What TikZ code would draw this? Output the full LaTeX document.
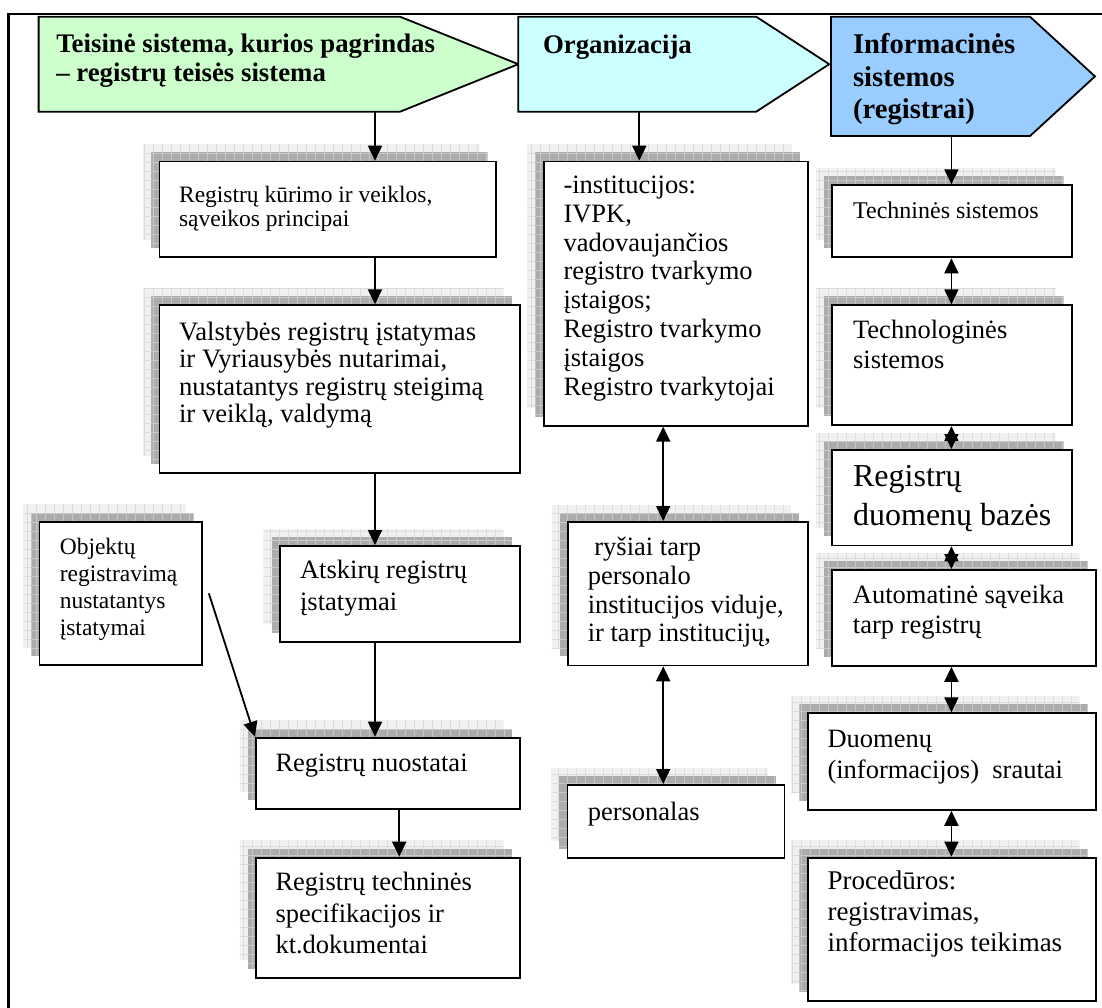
\documentclass[tikz,border=0pt]{standalone}
\usepackage{fontspec}
\setmainfont{Liberation Serif}
\usetikzlibrary{arrows.meta}
\definecolor{hdgreen}{HTML}{CCFFCC}
\definecolor{hdcyan}{HTML}{CCFFFF}
\definecolor{hdblue}{HTML}{99CCFF}
\tikzset{
  boxst/.style={draw=black, line width=1.8pt, fill=white, inner sep=0pt, anchor=north west},
  txt/.style={anchor=north west, inner sep=0pt, align=left},
  hdr/.style={draw=black, line width=1.8pt},
  arr/.style={line width=1.8pt, -{Triangle[length=15pt,width=14pt]}},
  darr/.style={line width=1.8pt, {Triangle[length=15pt,width=14pt]}-{Triangle[length=15pt,width=14pt]}},
}
\newcommand{\shrect}[6]{%
  \begin{scope}
    \clip (#1,#2) rectangle ++(#3,#4);
    \fill[#5] (#1,#2) rectangle ++(#3,#4);
    \draw[#6, line width=0.7pt, step=9pt] (#1,#2) grid ++(#3,#4);
  \end{scope}}
\newcommand{\regbox}[5]{%
  \pgfmathsetmacro{\rbW}{#4-#2}\pgfmathsetmacro{\rbH}{#5-#3}%
  \pgfmathsetmacro{\rbLX}{#2-15.5}\pgfmathsetmacro{\rbLY}{#3-16.4}%
  \pgfmathsetmacro{\rbDX}{#2-7.3}\pgfmathsetmacro{\rbDY}{#3-8.2}%
  \shrect{\rbLX}{\rbLY}{\rbW}{\rbH}{gray!12}{gray!28}
  \shrect{\rbDX}{\rbDY}{\rbW}{\rbH}{gray!65}{gray!42}
  \node[boxst, minimum width=\rbW pt, minimum height=\rbH pt] (#1) at (#2,#3) {};
}
\newcommand{\btext}[6]{%
  \node[txt, font=\fontsize{#4pt}{#5pt}\selectfont] (#1) at (#2,#3-#4) {\rule{0pt}{#4pt}#6};
}
\begin{document}
\begin{tikzpicture}[x=1pt,y=-1pt]
\useasboundingbox (0,0) rectangle (1102,1008);
\fill[white] (0,0) rectangle (1102,1008);
% outer frame
\draw[line width=2.2pt] (8.4,14) rectangle (1115,1020);

% header arrows
\draw[hdr, fill=hdgreen] (38.6,16.7) -- (400,16.7) -- (518.3,64.2) -- (400,111.7) -- (38.6,111.7) -- cycle;
\draw[hdr, fill=hdcyan] (518.3,16.7) -- (756.2,16.7) -- (829.2,64.2) -- (756.2,111.7) -- (518.3,111.7) -- cycle;
\draw[hdr, fill=hdblue] (831,16.7) -- (1030,16.7) -- (1095,76.4) -- (1030,136) -- (831,136) -- cycle;
\node[txt, font=\fontsize{26.8pt}{29.5pt}\selectfont\bfseries] (gt) at (56.1,52.3-26.8)
  {\rule{0pt}{26.8pt}Teisinė sistema, kurios pagrindas\\– registrų teisės sistema};
\node[txt, font=\fontsize{26.8pt}{29.5pt}\selectfont\bfseries] (ot) at (542.8,53.3-26.8)
  {\rule{0pt}{26.8pt}Organizacija};
\node[txt, font=\fontsize{28.6pt}{32.5pt}\selectfont\bfseries] (bt) at (852.9,53.5-28.6)
  {\rule{0pt}{28.6pt}Informacinės\\sistemos\\(registrai)};
\coordinate (g0) at (375,111.7);
\coordinate (o0) at (639.3,111.7);
\coordinate (bl0) at (951.4,136);

% left column
\regbox{b1}{158.5}{160.7}{495}{256}
\btext{b1t}{178.9}{202.5}{23.5}{23.5}{Registrų kūrimo ir veiklos,\\sąveikos principai}
\regbox{b2}{158.5}{304.3}{519.1}{472.3}
\btext{b2t}{178.9}{340}{26.6}{27.5}{Valstybės registrų įstatymas\\ir Vyriausybės nutarimai,\\nustatantys registrų steigimą\\ir veiklą, valdymą}
\regbox{obj}{38.6}{520.7}{201}{664}
\btext{objt}{59.6}{554}{23.5}{27}{Objektų\\registravimą\\nustatantys\\įstatymai}
\regbox{b3}{278.8}{545}{519.1}{640.7}
\btext{b3t}{299.9}{578.3}{26.5}{32}{Atskirų registrų\\įstatymai}
\regbox{b4}{255}{736.7}{519.1}{808.3}
\btext{b4t}{275.3}{771.7}{26.5}{30}{Registrų nuostatai}
\regbox{b5}{255}{856.7}{519.1}{976.7}
\btext{b5t}{275.3}{890.7}{26.5}{31.3}{Registrų techninės\\specifikacijos ir\\kt.dokumentai}

% middle column
\regbox{org}{542.7}{160.7}{807.3}{424.8}
\btext{orgt}{563.3}{193.3}{26.5}{28.8}{-institucijos:\\IVPK,\\vadovaujančios\\registro tvarkymo\\įstaigos;\\Registro tvarkymo\\įstaigos\\Registro tvarkytojai}
\regbox{rys}{567.2}{521}{806.7}{664.5}
\btext{ryst}{587.6}{555}{26.5}{28.9}{\hspace*{6.6pt}ryšiai tarp\\personalo\\institucijos viduje,\\ir tarp institucijų,}
\regbox{pers}{566.5}{784}{783.6}{857.3}
\btext{perst}{587.6}{820}{26.5}{30}{personalas}

% right column
\regbox{tech}{831}{184.3}{1071}{256.5}
\btext{techt}{852.9}{218}{24}{27}{Techninės sistemos}
\regbox{techno}{831}{304.3}{1071}{424.3}
\btext{technot}{852.9}{338.3}{26.5}{30}{Technologinės\\sistemos}
\regbox{db}{831}{449}{1071}{544.5}
\btext{dbt}{852.9}{486.7}{32}{38.3}{Registrų\\duomenų bazės}
\regbox{auto}{831}{569}{1095}{665}
\btext{autot}{852.7}{603.3}{26.5}{30}{Automatinė sąveika\\tarp registrų}
\regbox{duom}{806.7}{712.3}{1095}{809}
\btext{duomt}{827.3}{747.3}{26.5}{31}{Duomenų\\(informacijos)~~srautai}
\regbox{proc}{806.7}{856.7}{1095}{1000}
\btext{proct}{827.3}{889}{27}{31.3}{Procedūros:\\registravimas,\\informacijos teikimas}

% connectors
\coordinate (xa) at (399.2,0);
\coordinate (xo) at (663.2,0);
\draw[arr] (g0) -- (g0 |- b1.north);
\draw[arr] (g0 |- b1.south) -- (g0 |- b2.north);
\draw[arr] (g0 |- b2.south) -- (g0 |- b3.north);
\draw[arr] (g0 |- b3.south) -- (g0 |- b4.north);
\draw[arr] (xa |- b4.south) -- (xa |- b5.north);
\draw[arr] ([xshift=6pt]obj.east) -- (b4.north west);

\draw[arr] (o0) -- (o0 |- org.north);
\draw[darr] (xo |- org.south) -- (xo |- rys.north);
\draw[darr] (xo |- rys.south) -- (xo |- pers.north);

\draw[arr] (bl0) -- (bl0 |- tech.north);
\draw[darr] (bl0 |- tech.south) -- (bl0 |- techno.north);
\draw[darr] (bl0 |- techno.south) -- (bl0 |- db.north);
\draw[darr] (bl0 |- db.south) -- (bl0 |- auto.north);
\draw[darr] (bl0 |- auto.south) -- (bl0 |- duom.north);
\draw[darr] (bl0 |- duom.south) -- (bl0 |- proc.north);
\end{tikzpicture}
\end{document}
